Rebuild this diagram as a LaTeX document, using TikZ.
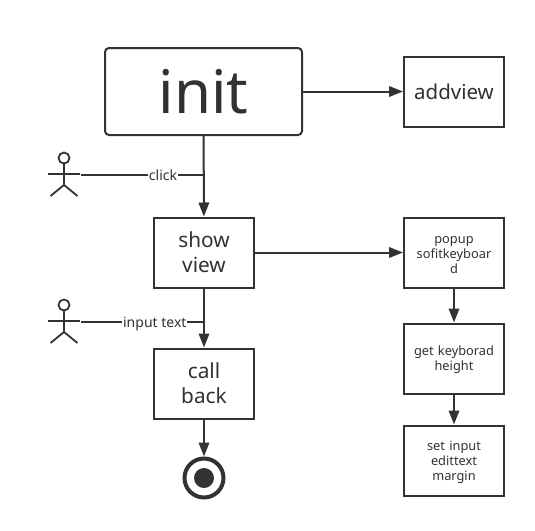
\documentclass[tikz,border=0pt]{standalone}
\usepackage{fontspec}
\setmainfont{Noto Sans}
\usetikzlibrary{arrows.meta}
\definecolor{inkgray}{HTML}{323232}
\tikzset{
  stepbox/.style={draw=inkgray,line width=2pt,minimum width=100pt,minimum height=70pt,inner sep=0pt,text=inkgray,align=center,text width=97pt},
  bigtext/.style={font=\fontsize{20.8}{25}\selectfont},
  smalltext/.style={font=\fontsize{12.8}{15.2}\selectfont,text height=12.5pt},
  flow/.style={draw=inkgray,line width=2pt,-{Triangle[length=14pt,width=10.5pt]}},
  plainline/.style={draw=inkgray,line width=2pt},
  actorline/.style={draw=inkgray,line width=1.8pt},
  linklabel/.style={fill=white,inner sep=1pt,text=inkgray,text depth=0pt,font=\fontsize{14}{15}\selectfont},
}
\begin{document}
\begin{tikzpicture}[x=1pt,y=-1pt]
\useasboundingbox[fill=white] (0,0) rectangle (535,530);
\node[stepbox,minimum width=197pt,minimum height=87pt,text width=190pt,rounded corners=4pt,font=\fontsize{60}{70}\selectfont] (init) at (203.5,91.5) {init};
\node[stepbox,font=\fontsize{20.5}{25}\selectfont] (addview) at (454,91.5) {addview};
\node[stepbox,bigtext] (show) at (204,252.5) {show\\view};
\node[stepbox,bigtext] (call) at (204,383.5) {call\\back};
\node[stepbox,smalltext] (popup) at (454,252.5) {popup\\sofitkeyboar\\d};
\node[stepbox,smalltext] (height) at (454,358.5) {get keyborad\\height};
\node[stepbox,smalltext] (margin) at (454,460.5) {set input\\edittext\\margin};
\node[circle,draw=inkgray,line width=4pt,minimum size=39pt,inner sep=0pt] (finish) at (204,478) {};
\node[circle,fill=inkgray,minimum size=20pt,inner sep=0pt] (finishdot) at (204,478) {};
% first actor
\node[circle,actorline,minimum size=11pt,inner sep=0pt] (clickhead) at (64,158) {};
\coordinate (clickhip) at (64,185);
\coordinate (clickhand) at (81,175);
\coordinate (clickjoin) at (204,175);
\draw[actorline] (clickhead) -- (clickhip);
\draw[actorline] (48,174) -- (80,174);
\draw[actorline] (50.5,196) -- (clickhip) -- (77.5,196);
% second actor
\node[circle,actorline,minimum size=11pt,inner sep=0pt] (inputhead) at (64,305) {};
\coordinate (inputhip) at (64,332);
\coordinate (inputhand) at (81,322);
\coordinate (inputjoin) at (204,322);
\draw[actorline] (inputhead) -- (inputhip);
\draw[actorline] (48,321) -- (80,321);
\draw[actorline] (50.5,343) -- (inputhip) -- (77.5,343);
% connectors
\draw[flow] (init) -- (addview);
\draw[flow] (init) -- (show);
\draw[flow] (show) -- (popup);
\draw[flow] (show) -- (call);
\draw[flow] (call) -- (finish);
\draw[flow] (popup) -- (height);
\draw[flow] (height) -- (margin);
\draw[plainline] (clickhand) -- node[linklabel,pos=.667] {click} (clickjoin);
\draw[plainline] (inputhand) -- node[linklabel,pos=.6] {input text} (inputjoin);
\end{tikzpicture}
\end{document}
